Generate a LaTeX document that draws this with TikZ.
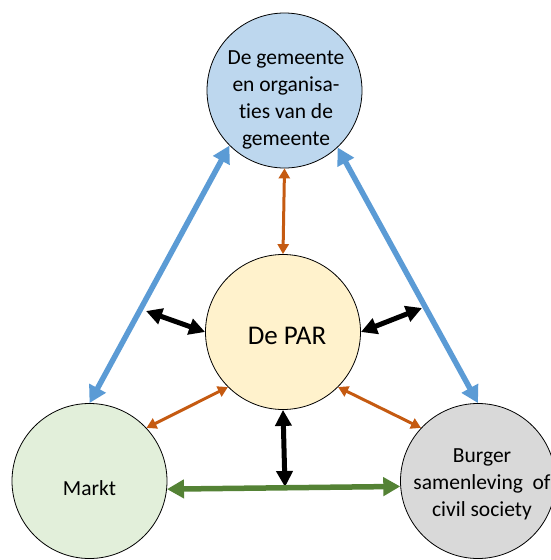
\documentclass[tikz,border=0pt]{standalone}
\usepackage{fontspec}
\setmainfont[Ligatures=NoCommon]{Carlito}
\usetikzlibrary{arrows.meta}
\definecolor{topfill}{HTML}{BDD7EE}
\definecolor{parfill}{HTML}{FFF2CC}
\definecolor{marktfill}{HTML}{E2EFDA}
\definecolor{burgerfill}{HTML}{D9D9D9}
\definecolor{blueln}{HTML}{5B9BD5}
\definecolor{orangeln}{HTML}{C55A11}
\definecolor{greenln}{HTML}{548235}
\begin{document}
\begin{tikzpicture}[x=1pt,y=-1pt,
  circ/.style={circle, draw=black, line width=0.8pt, minimum size=155pt, inner sep=0pt},
  lbl/.style={align=center, font=\fontsize{21.5}{27}\selectfont, inner sep=0pt},
  bluearr/.style={draw=blueln, line width=5.5pt, {Triangle[length=17pt,width=18pt]}-{Triangle[length=17pt,width=18pt]}},
  orangearr/.style={draw=orangeln, line width=3pt, {Triangle[length=10pt,width=11pt]}-{Triangle[length=10pt,width=11pt]}},
  blackarr/.style={draw=black, line width=5pt, {Triangle[length=16pt,width=16pt]}-{Triangle[length=16pt,width=16pt]}},
  greenarr/.style={draw=greenln, line width=5.5pt, {Triangle[length=17pt,width=18pt]}-{Triangle[length=17pt,width=18pt]}}]
\useasboundingbox (0,0) rectangle (550,560);
\node[circ, fill=topfill] (gem) at (284.5,90.5) {};
\node[circ, fill=parfill] (par) at (283,332) {};
\node[circ, fill=marktfill] (markt) at (89.5,481) {};
\node[circ, fill=burgerfill] (burger) at (478,481) {};
\node[lbl] (gemtxt) at (286,99.5) {De gemeente\\en organisa-\\ties van de\\gemeente};
\node[lbl, font=\fontsize{27}{32}\selectfont, anchor=base] (partxt) at (287,344) {De PAR};
\node[lbl, anchor=base] (markttxt) at (89.5,495) {Markt};
\node[lbl] (burgertxt) at (482,484) {Burger\\samenleving\hspace{0.45em}of\\civil society};
\coordinate (bl) at (146,311);
\coordinate (br) at (422,308);
\coordinate (bm) at (285,487);
\draw[bluearr] (markt.90) -- (gem.225);
\draw[bluearr] (burger.90) -- (gem.313);
\draw[orangearr] (gem.270) -- (par.90);
\draw[orangearr] (par.225) -- (markt.43);
\draw[orangearr] (par.315) -- (burger.137);
\draw[blackarr] (bl) -- (par.180);
\draw[blackarr] (par.0) -- (br);
\draw[blackarr] (par.270) -- (bm);
\draw[greenarr] (markt.-6) -- (burger.184);
\end{tikzpicture}
\end{document}
